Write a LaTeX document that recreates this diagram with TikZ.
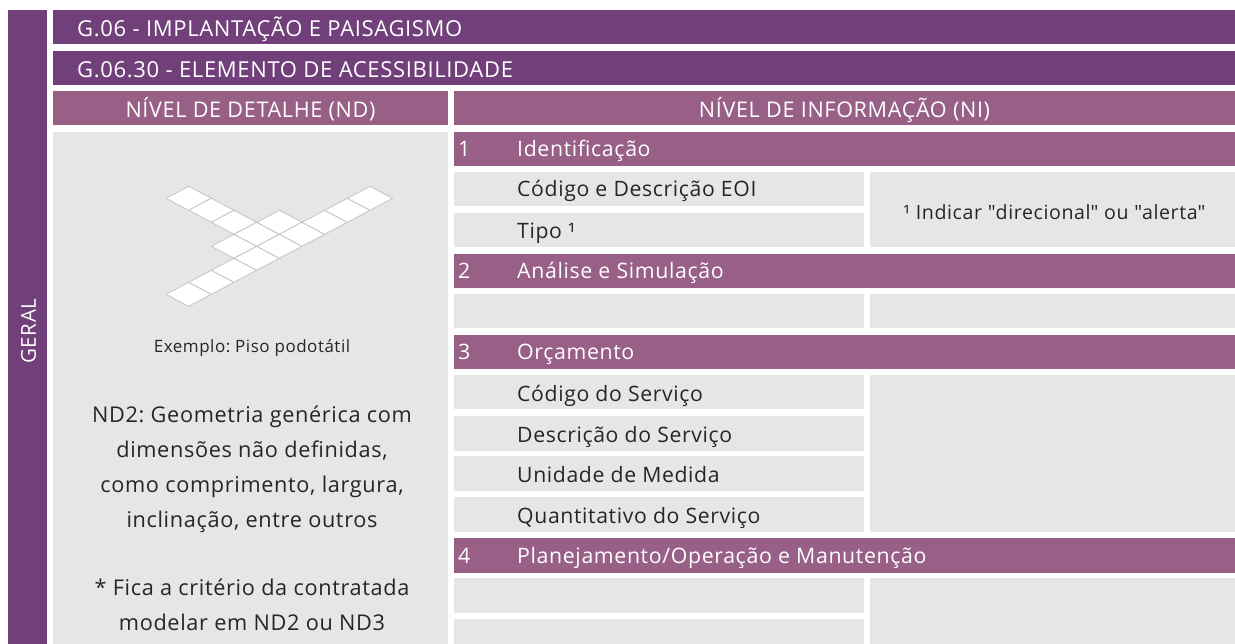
\documentclass[tikz,border=0pt]{standalone}
\usepackage{fontspec}
\setmainfont[LetterSpace=3]{Open Sans}
\frenchspacing
\definecolor{dpurple}{HTML}{71407A}
\definecolor{lpurple}{HTML}{985F87}
\definecolor{cellgray}{HTML}{E6E6E6}
\definecolor{txt}{HTML}{262626}
\definecolor{tileline}{HTML}{C4C4C4}
\tikzset{
  hdtext/.style={text=white, inner sep=0pt, font=\fontsize{22}{26}\selectfont},
  subhd/.style={text=white, inner sep=0pt, anchor=base, font=\fontsize{21.6}{26}\selectfont},
  rowtext/.style={text=txt, inner sep=0pt, anchor=base west, font=\fontsize{21.2}{25}\selectfont},
  sectext/.style={text=white, inner sep=0pt, anchor=base west, font=\fontsize{21.3}{25}\selectfont},
  ndtext/.style={text=txt, inner sep=0pt, anchor=base, font=\fontsize{21.7}{26}\selectfont},
  tile/.style={fill=white, draw=tileline, line width=0.8pt, line join=round}
}
\begin{document}
\begin{tikzpicture}[x=1pt,y=-1pt]
\useasboundingbox (0,0) rectangle (1235,644);
% left bar
\fill[dpurple] (8,10) rectangle (47,644);
% top headers
\fill[dpurple] (53,10) rectangle (1235,44.5);
\fill[dpurple] (53,51) rectangle (1235,85.5);
\fill[lpurple] (53,91) rectangle (448,125.5);
\fill[lpurple] (454,91) rectangle (1235,125.5);
% left panel
\fill[cellgray] (53,132) rectangle (448,644);
% section rows
\foreach \t in {132,254,335,538} {\fill[lpurple] (454,\t) rectangle (1235,\t+34.5);}
% left cells
\foreach \t in {172,213,294,375,416,456,497,578,619} {\fill[cellgray] (454,\t) rectangle (864,\t+34.5);}
% right cells
\fill[cellgray] (870,172) rectangle (1235,247.5);
\fill[cellgray] (870,294) rectangle (1235,328.5);
\fill[cellgray] (870,375) rectangle (1235,531.5);
\fill[cellgray] (870,578) rectangle (1235,644);
% tiles
\foreach \i/\j in {0/0,1/0,2/0,3/-1,3/0,3/1,4/-4,4/-3,4/-2,4/-1,4/0,4/1,4/2,4/3,4/4} {
  \filldraw[tile] ({166+22.67*(\i+\j)},{198.3+12*(\i-\j)}) -- ++(22.67,-12) -- ++(22.67,12) -- ++(-22.67,12) -- cycle;
}
% texts
\node[text=white, inner sep=0pt, rotate=90, font=\fontsize{20.5}{25}\selectfont] (geral) at (28.5,331) {GERAL};
\node[hdtext, anchor=base west] (h1) at (77,36.7) {G.06 - IMPLANTAÇÃO E PAISAGISMO};
\node[hdtext, anchor=base west] (h2) at (77,77.5) {G.06.30 - ELEMENTO DE ACESSIBILIDADE};
\node[subhd] (nd) at (250.5,117.5) {NÍVEL DE DETALHE (ND)};
\node[subhd] (ni) at (844.5,117.5) {NÍVEL DE INFORMAÇÃO (NI)};
% section headings
\node[sectext] (n1) at (458,157) {1};
\node[sectext] (s1) at (517,157) {Identificação};
\node[sectext] (n2) at (458,279) {2};
\node[sectext] (s2) at (517,279) {Análise e Simulação};
\node[sectext] (n3) at (458,360) {3};
\node[sectext] (s3) at (517,360) {Orçamento};
\node[sectext] (n4) at (458,563) {4};
\node[sectext] (s4) at (517,563) {Planejamento/Operação e Manutenção};
% rows
\node[rowtext] (r1) at (517,197) {Código e Descrição EOI};
\node[rowtext] (r2) at (517,238.5) {Tipo ¹};
\node[rowtext] (r3) at (517,401.5) {Código do Serviço};
\node[rowtext] (r4) at (517,442.5) {Descrição do Serviço};
\node[rowtext] (r5) at (517,482.5) {Unidade de Medida};
\node[rowtext] (r6) at (517,523.5) {Quantitativo do Serviço};
\node[text=txt, inner sep=0pt, anchor=base, font=\fontsize{19.6}{23}\selectfont] (note) at (1054.5,219.5) {¹ Indicar \textquotedbl direcional\textquotedbl{} ou \textquotedbl alerta\textquotedbl};
% left panel texts
\node[text=txt, inner sep=0pt, anchor=base, font=\fontsize{17}{20}\selectfont] (ex) at (252,353) {Exemplo: Piso podotátil};
\node[ndtext] (d1) at (252,422) {ND2: Geometria genérica com};
\node[ndtext] (d2) at (252,457) {dimensões não definidas,};
\node[ndtext] (d3) at (252,492) {como comprimento, largura,};
\node[ndtext] (d4) at (252,527) {inclinação, entre outros};
\node[ndtext] (d5) at (252,595) {* Fica a critério da contratada};
\node[ndtext] (d6) at (252,630) {modelar em ND2 ou ND3};
\end{tikzpicture}
\end{document}
